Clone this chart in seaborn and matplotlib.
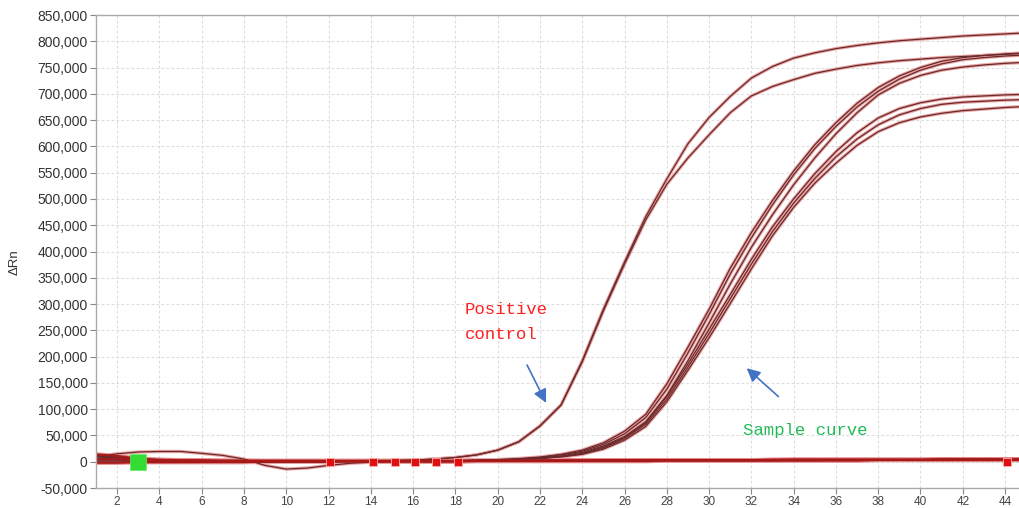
import numpy as np
import pandas as pd
import matplotlib
matplotlib.use("Agg")
import matplotlib.pyplot as plt
from matplotlib.ticker import FuncFormatter, MultipleLocator
import seaborn as sns

# --- data (delta Rn in thousands) ---
cycles = list(range(1, 46))

pos_ctrl_1 = [13, 9, 5, 3, 2, 1, 1, 0, 0, 0, 0, 1, 1, 1, 2, 3, 5, 8, 13, 22,
              38, 68, 108, 192, 290, 380, 466, 538, 605, 655, 695, 730, 752, 768, 778,
              786, 792, 797, 801, 804, 807, 810, 812, 814, 816]
pos_ctrl_2 = [9, 7, 4, 3, 2, 1, 1, 0, 0, 0, 0, 1, 1, 1, 2, 3, 5, 8, 13, 22,
              38, 68, 108, 190, 287, 376, 460, 528, 578, 622, 664, 696, 714, 727, 739,
              747, 754, 759, 763, 766, 769, 771, 773, 775, 777]

sample_a1 = [11, 7, 4, 2, 1, 1, 0, 0, 0, 0, 0, 0, 1, 1, 1, 1, 2, 2, 3, 4,
             6, 9, 14, 22, 36, 58, 90, 148, 218, 290, 368, 436, 497, 553, 603,
             645, 682, 712, 734, 750, 762, 769, 773, 776, 778]
sample_a2 = [7, 5, 3, 2, 1, 1, 0, 0, 0, 0, 0, 0, 1, 1, 1, 1, 2, 2, 3, 4,
             5, 8, 13, 20, 33, 53, 84, 138, 207, 280, 357, 426, 489, 546, 596,
             638, 675, 705, 728, 745, 757, 765, 769, 772, 774]
sample_a3 = [3, 3, 2, 1, 1, 0, 0, 0, 0, 0, 0, 0, 1, 1, 1, 1, 1, 2, 2, 3,
             5, 7, 11, 18, 30, 48, 76, 126, 192, 264, 338, 408, 470, 527, 578,
             624, 664, 698, 720, 735, 745, 751, 755, 758, 760]
sample_b1 = [12, 8, 4, 2, 1, 1, 0, 0, 0, 0, 0, 0, 1, 1, 1, 1, 1, 2, 2, 3,
             4, 7, 10, 16, 28, 46, 74, 124, 186, 252, 318, 385, 447, 500, 548,
             590, 626, 654, 672, 683, 690, 694, 696, 698, 699]
sample_b2 = [5, 4, 3, 2, 1, 0, 0, 0, 0, 0, 0, 0, 1, 1, 1, 1, 1, 2, 2, 3,
             4, 6, 10, 15, 26, 44, 71, 119, 180, 244, 310, 376, 438, 492, 539,
             580, 614, 641, 660, 672, 680, 684, 686, 688, 689]
sample_b3 = [1, 1, 1, 1, 0, 0, 0, 0, 0, 0, 0, 0, 1, 1, 1, 1, 1, 2, 2, 3,
             4, 6, 9, 14, 24, 41, 67, 114, 174, 236, 301, 367, 430, 484, 530,
             568, 602, 628, 645, 656, 663, 668, 671, 674, 676]

ntc_1 = [14, 11, 6, 4, 3, 3, 2, 2, 1, 1, 1, 1, 1, 1, 1, 1, 1, 1, 2, 2,
         2, 2, 2, 2, 3, 3, 3, 3, 3, 3, 3, 3, 4, 4, 4, 4, 4, 4, 4, 4,
         5, 5, 5, 5, 5]
ntc_2 = [-2, -2, -1, -1, -1, -1, -1, -1, 0, 0, 0, 0, 0, 0, 0, 0, 0, 0, 1, 1,
         1, 1, 1, 1, 1, 1, 1, 2, 2, 2, 2, 2, 2, 2, 2, 2, 2, 3, 3, 3,
         3, 3, 3, 3, 3]
ntc_3 = [10, 15, 18.5, 19.5, 19.5, 16, 12, 5, -7, -14, -12, -7, -3, -1, 0, 0, 0, 1, 1, 1,
         1, 1, 1, 1, 1, 1, 2, 2, 2, 2, 2, 2, 2, 2, 2, 3, 3, 3, 3, 3,
         3, 3, 3, 3, 3]
ntc_4 = [4, 5, 3, 3, 2, 2, 2, 2, 2, 2, 2, 2, 2, 2, 2, 2, 2, 2, 2, 2,
         2, 3, 3, 3, 3, 3, 3, 3, 3, 3, 3, 3, 3, 4, 4, 4, 4, 4, 4, 4,
         4, 4, 4, 4, 4]

# baseline start/end flags on the plot
flag_x = [12.07, 14.1, 15.15, 16.1, 17.1, 18.1, 44.1]
flag_y = [-1, -1, -1, -1, -1, -1, -1]
start_x = [3.0]
start_y = [0]

amp_curves = {"PC1": pos_ctrl_1, "PC2": pos_ctrl_2,
              "A1": sample_a1, "A2": sample_a2, "A3": sample_a3,
              "B1": sample_b1, "B2": sample_b2, "B3": sample_b3,
              "N3": ntc_3}
flat_curves = {"N1": ntc_1, "N2": ntc_2, "N4": ntc_4}

def to_long(curves):
    rows = []
    for name, vals in curves.items():
        for c, v in zip(cycles, vals):
            rows.append((name, c, v * 1000))
    return pd.DataFrame(rows, columns=["well", "cycle", "rn"])

amp = to_long(amp_curves)
flat = to_long(flat_curves)

# --- plot ---
sns.set_style("white")
plt.rcParams["font.family"] = ["Liberation Sans", "DejaVu Sans"]

fig = plt.figure(figsize=(10.19, 5.08), dpi=100)
ax = fig.add_axes([96 / 1019, 20 / 508, 1 - 96 / 1019, 473 / 508])

ax.set_xlim(1, 44.66)
ax.set_ylim(-50000, 850000)
ax.xaxis.set_major_locator(MultipleLocator(2))
ax.yaxis.set_major_locator(MultipleLocator(50000))
ax.yaxis.set_major_formatter(FuncFormatter(lambda v, p: f"{v:,.0f}"))
ax.grid(True, color="#dcdcdc", lw=0.8, ls=(0, (2.5, 2)))
ax.set_axisbelow(True)

# baseline band
sns.lineplot(data=flat, x="cycle", y="rn", units="well", estimator=None,
             color="#e58585", lw=3.0, ax=ax, legend=False)
# amplification curves: light halo + dark core
sns.lineplot(data=amp, x="cycle", y="rn", units="well", estimator=None,
             color="#eaa5a5", lw=2.4, ax=ax, legend=False)
sns.lineplot(data=amp, x="cycle", y="rn", units="well", estimator=None,
             color="#6a2a2a", lw=0.9, ax=ax, legend=False)
# baseline core on top so the band looks solid
sns.lineplot(data=flat, x="cycle", y="rn", units="well", estimator=None,
             color="#a81a1a", lw=1.5, ax=ax, legend=False)

sns.scatterplot(x=flag_x, y=[v * 1000 for v in flag_y], marker="s", s=36,
                color="#e01010", edgecolor="#ffb0b0", linewidth=0.6, ax=ax, zorder=5)
sns.scatterplot(x=start_x, y=[v * 1000 for v in start_y], marker="s", s=120,
                color="#33dd33", edgecolor="#66ee66", linewidth=0.5, ax=ax, zorder=5)

ax.set_xlabel("")
ax.set_ylabel("")
ax.tick_params(axis="both", which="major", direction="out", length=4, width=0.8,
               color="#888888", left=True, bottom=True, pad=2)
ax.tick_params(axis="y", labelsize=10, labelcolor="#333333")
ax.tick_params(axis="x", labelsize=8.5, labelcolor="#444444")
for side in ["left", "bottom", "top"]:
    ax.spines[side].set_color("#aaaaaa")
    ax.spines[side].set_linewidth(1.0)
ax.spines["right"].set_visible(False)

fig.text(0.014, 0.484, "ΔRn", rotation=90, ha="center", va="center",
         fontsize=9.5, color="#333333")

# annotations
ann_font = ["Liberation Mono", "DejaVu Sans Mono"]
ax.text(18.45, 266000, "Positive\ncontrol", color="#ff2020", fontsize=12.5,
        family=ann_font, ha="left", va="center", linespacing=1.9)
ax.text(31.6, 60000, "Sample curve", color="#22bb55", fontsize=12.5,
        family=ann_font, ha="left", va="center")
ax.annotate("", xy=(22.29, 112000), xytext=(21.39, 184000),
            arrowprops=dict(arrowstyle="-|>", color="#4472c4", lw=1.2,
                            mutation_scale=20, shrinkA=0, shrinkB=0))
ax.annotate("", xy=(31.78, 178000), xytext=(33.28, 124000),
            arrowprops=dict(arrowstyle="-|>", color="#4472c4", lw=1.2,
                            mutation_scale=20, shrinkA=0, shrinkB=0))

fig.savefig("out.png", dpi=100)
